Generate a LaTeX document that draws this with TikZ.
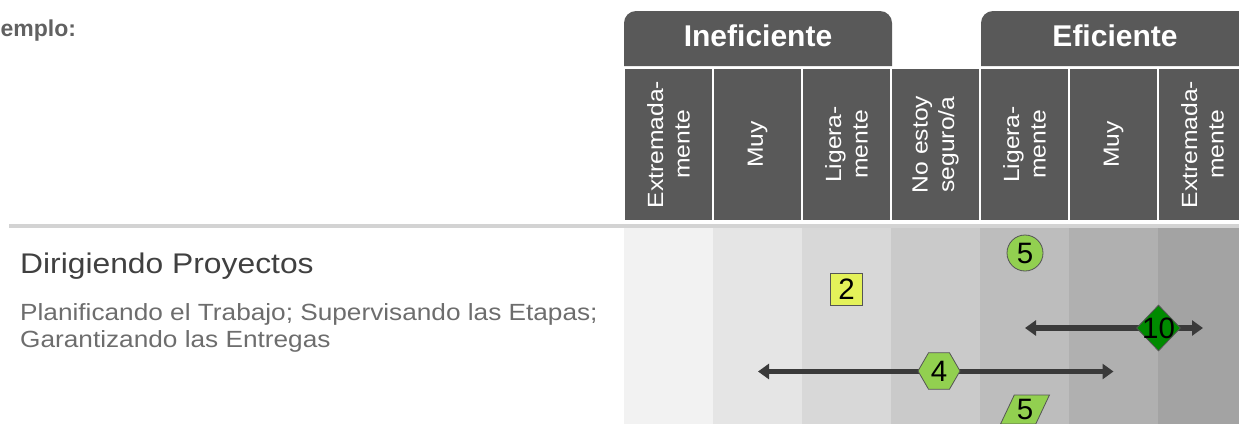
\documentclass[tikz,border=0pt]{standalone}
\usepackage{fontspec}
\setmainfont{Liberation Sans}[FakeStretch=1.12]
\newfontfamily\plainsans{Liberation Sans}
\usetikzlibrary{shapes.geometric,arrows.meta}
\definecolor{hdr}{HTML}{595959}
\definecolor{rulegray}{HTML}{D3D3D3}
\definecolor{titlegray}{HTML}{404040}
\definecolor{subgray}{HTML}{6D6D6D}
\definecolor{lblgray}{HTML}{616161}
\definecolor{lime}{HTML}{92D050}
\definecolor{lemon}{HTML}{E4F25A}
\definecolor{deepgreen}{HTML}{008A00}
\definecolor{bar}{HTML}{3A3A3A}
\definecolor{edge}{HTML}{555555}
\begin{document}
\begin{tikzpicture}[x=1pt, y=-1pt,
        tabtext/.style = {text=white, font=\plainsans\fontsize{30}{36}\selectfont\bfseries},
        cell/.style = {rotate=90, fill=hdr, draw=white, line width=2pt,
            minimum width=153pt, minimum height=89pt, inner sep=0pt,
            text=white, align=center, font=\fontsize{22}{26.5}\selectfont},
        marker/.style = {draw=edge, line width=0.8pt, inner sep=0pt,
            font=\plainsans\fontsize{29.5}{30}\selectfont},
        spanline/.style = {draw=bar, line width=5.5pt,
            {Triangle[length=11pt,width=15pt]}-{Triangle[length=11pt,width=15pt]}}]
    \useasboundingbox (0,0) rectangle (1239,423);
    \clip (0,0) rectangle (1239,423);
    \node[anchor=base west, inner sep=0pt, text=lblgray,
        font=\plainsans\fontsize{23}{27}\selectfont\bfseries] (ej) at (0.5,36.5) {emplo:};
    \fill[hdr, rounded corners=12pt] (624,66) |- (892,11) -- (892,66);
    \node[tabtext] (inef) at (758,36) {Ineficiente};
    \fill[hdr, rounded corners=12pt] (981,66) |- (1250,11) -- (1250,66);
    \node[tabtext] (efic) at (1115,36) {Eficiente};
    \foreach \lbl [count=\i from 0] in {Extremada-\\mente, Muy, Ligera-\\mente,
            No estoy\\seguro/a, Ligera-\\mente, Muy, Extremada-\\mente}
        \node[cell] (c\i) at ({668.5+89*\i},144.5) {\lbl};
    \draw[rulegray, line width=4pt] (9,225.5) -- (1239,225.5);
    \foreach \i in {0,...,6} {
        \pgfmathsetmacro\shade{5+5.2*\i}
        \fill[black!\shade] ({624+89*\i},228) rectangle +(89,200);
    }
    \node[anchor=base west, inner sep=0pt, text=titlegray,
        font=\fontsize{28.4}{34}\selectfont] (ttl) at (20,273) {Dirigiendo Proyectos};
    \node[anchor=base west, inner sep=0pt, text=subgray,
        font=\fontsize{23.4}{28}\selectfont] (sub1) at (20,320)
        {Planificando el Trabajo; Supervisando las Etapas;};
    \node[anchor=base west, inner sep=0pt, text=subgray,
        font=\fontsize{23.4}{28}\selectfont] (sub2) at (20,347)
        {Garantizando las Entregas};
    \coordinate (upl) at (1025,328);
    \coordinate (upr) at (1203,328);
    \coordinate (lowl) at (758,371.5);
    \coordinate (lowr) at (1113.5,371.5);
    \draw[spanline] (upl) -- (upr);
    \draw[spanline] (lowl) -- (lowr);
    \node[marker, circle, fill=lime, minimum size=36pt] (c5) at (1025,253) {5};
    \node[marker, rectangle, fill=lemon, minimum size=32pt] (s2) at (846.5,289.5) {2};
    \node[marker, diamond, fill=deepgreen, inner sep=-6pt, minimum width=44pt,
        minimum height=46pt] (d10) at (1158.5,328) {10};
    \node[marker, regular polygon, regular polygon sides=6, fill=lime,
        minimum size=42pt] (h4) at (939,371) {4};
    \node[marker, trapezium, trapezium left angle=63, trapezium right angle=117,
        trapezium stretches, fill=lime, minimum width=49pt,
        minimum height=29pt] (p5) at (1025,409.5) {5};
\end{tikzpicture}
\end{document}
